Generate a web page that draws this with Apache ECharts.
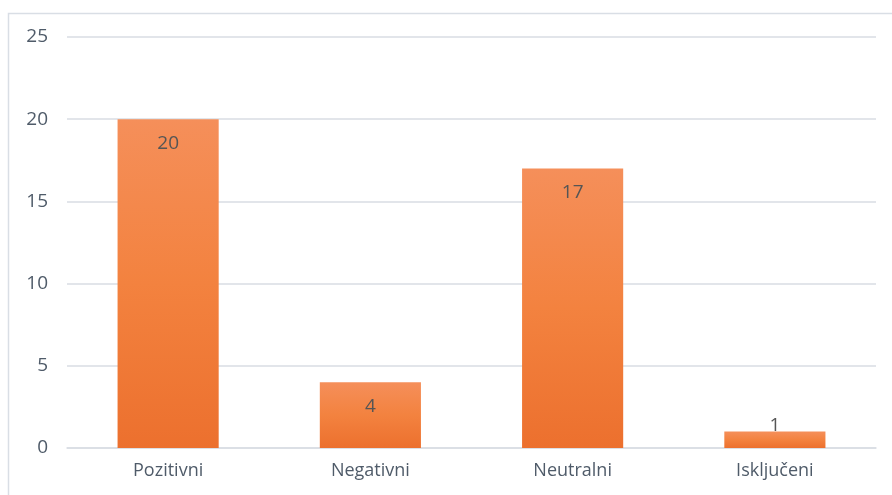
<!DOCTYPE html>
<html>
<head>
<meta charset="utf-8">
<script src="https://cdn.jsdelivr.net/npm/echarts@6/dist/echarts.min.js"></script>
<style>
  html, body { margin: 0; padding: 0; background: #fff; }
  #chart { width: 892px; height: 495px; }
</style>
</head>
<body>
<div id="chart"></div>
<script>
var categories = ['Pozitivni', 'Negativni', 'Neutralni', 'Isključeni'];
var values = [20, 4, 17, 1];

var chart = echarts.init(document.getElementById('chart'));

var barData = values.map(function (v) {
  // small bars: label goes above the bar, like Excel does
  return {
    value: v,
    label: { position: v < 2 ? 'top' : 'insideTop', distance: v < 2 ? -4 : 15 }
  };
});

var option = {
  animation: false,
  graphic: [{
    type: 'rect',
    shape: { x: 8.5, y: 13.5, width: 900, height: 500 },
    style: { fill: 'none', stroke: '#d9dee5', lineWidth: 1.5 },
    silent: true
  }],
  grid: { left: 67, right: 16, top: 37, bottom: 47 },
  xAxis: {
    type: 'category',
    data: categories,
    axisLine: { lineStyle: { color: '#d9dde3', width: 1.5 } },
    axisTick: { show: false },
    axisLabel: {
      color: '#4f5b69',
      fontFamily: 'Open Sans',
      fontSize: 18,
      margin: 14
    }
  },
  yAxis: {
    type: 'value',
    min: 0,
    max: 25,
    interval: 5,
    axisLine: { show: false },
    axisTick: { show: false },
    splitLine: { lineStyle: { color: '#d9dde3', width: 1.5 } },
    axisLabel: {
      color: '#4f5b69',
      fontFamily: 'Open Sans',
      fontSize: 19,
      margin: 19
    }
  },
  series: [{
    type: 'bar',
    data: barData,
    barWidth: '50%',
    itemStyle: {
      color: new echarts.graphic.LinearGradient(0, 0, 0, 1, [
        { offset: 0, color: '#f58f5a' },
        { offset: 0.5, color: '#f3823f' },
        { offset: 1, color: '#ec702e' }
      ])
    },
    label: {
      show: true,
      color: '#555555',
      fontFamily: 'Open Sans',
      fontSize: 19
    }
  }]
};

chart.setOption(option);
</script>
</body>
</html>
